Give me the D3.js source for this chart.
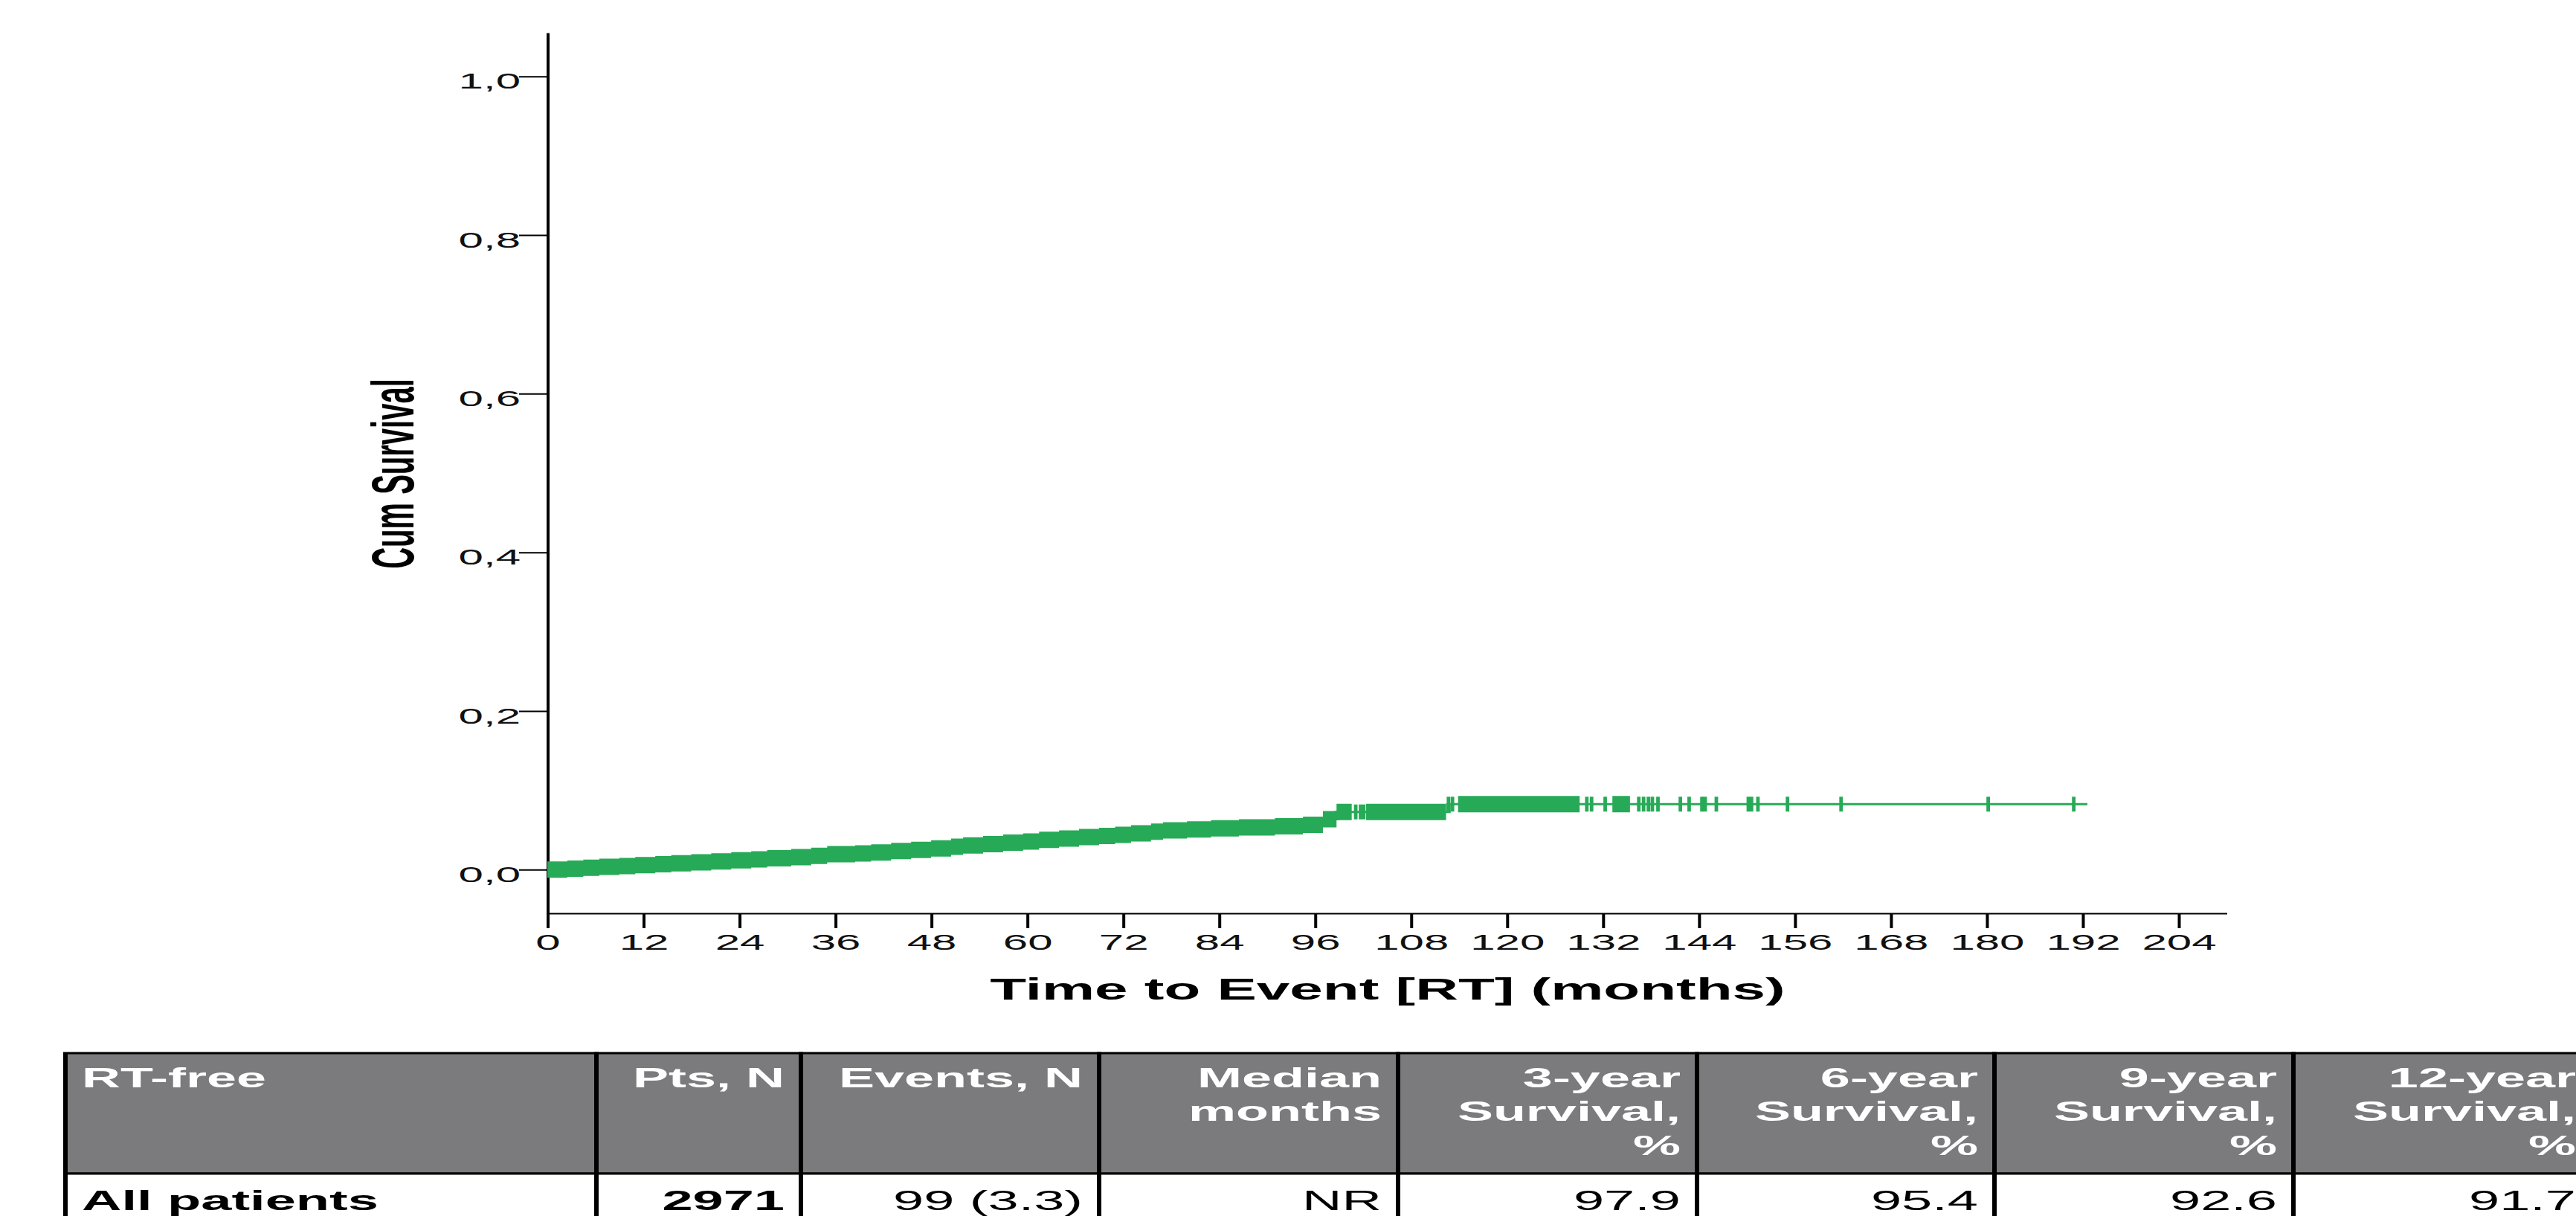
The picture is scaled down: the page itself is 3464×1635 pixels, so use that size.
<!DOCTYPE html>
<html>
<head>
<meta charset="utf-8">
<script src="https://cdn.jsdelivr.net/npm/d3@7"></script>
<style>
  html, body { margin: 0; padding: 0; background: #fff; overflow: hidden; }
  svg { display: block; }
  text { font-family: "Liberation Sans", Arial, sans-serif; }
</style>
</head>
<body>
<svg id="chart" width="3464" height="1635" viewBox="0 0 1732 1635" preserveAspectRatio="none"></svg>
<script>
// ---------------- data ----------------
const xTickValues = [0, 12, 24, 36, 48, 60, 72, 84, 96, 108, 120, 132, 144, 156, 168, 180, 192, 204];
const yTickValues = [0, 0.2, 0.4, 0.6, 0.8, 1.0];
const yTickLabels = ["0,0", "0,2", "0,4", "0,6", "0,8", "1,0"];

// Kaplan–Meier curve (cumulative event proportion), step times in months
const stepTimes  = [0, 2.5, 4.5, 6.5, 9, 11, 13.5, 15.5, 18, 20.5, 23, 25.5, 27.5, 30.5, 33, 35, 38.5, 40.5, 43, 45.5,
                    48, 50.5, 52, 54.5, 57, 59.5, 61.5, 64, 66.5, 69, 71, 73, 75.5, 77, 80, 83, 86.5, 91, 94.5, 97, 98.7, 112.7];
const stepValues = [0, .0012, .0025, .0035, .0045, .0058, .0068, .008, .0092, .0105, .0118, .013, .0143, .0158, .0175, .0195, .0205, .0217, .0234, .025,
                    .0268, .029, .0305, .0322, .034, .0355, .0375, .0392, .041, .0425, .044, .0458, .0478, .0495, .0508, .052, .0532, .0547, .0565, .0635, .0728, .0826];
const lastFollowUp = 192.6;

// censoring: dense runs (marks merge into a band) and isolated censor marks
const denseCensorStart = [0, 102.4, 113.9, 133.2];
const denseCensorEnd   = [100.6, 112.4, 129.1, 135.4];
const censorTimes = [101.1, 101.7, 102.1, 112.7, 113.2, 130.0, 130.6, 132.3, 136.5, 137.1, 137.7, 138.2, 138.9,
                     141.7, 142.8, 144.4, 144.8, 146.2, 150.2, 150.6, 151.4, 155.1, 161.8, 180.2, 190.9];

const xTitle = "Time to Event [RT] (months)";
const yTitle = "Cum Survival";

// table
const tableHeaders = [
  ["RT-free"], ["Pts, N"], ["Events, N"], ["Median", "months"],
  ["3-year", "Survival,", "%"], ["6-year", "Survival,", "%"], ["9-year", "Survival,", "%"], ["12-year", "Survival,", "%"]
];
const tableRow = ["All patients", "2971", "99 (3.3)", "NR", "97.9", "95.4", "92.6", "91.7"];
const tableRowBold = [true, true, false, false, false, false, false, false];

// ---------------- drawing ----------------
const svg = d3.select("#chart");
const green = "#27aa57";

const x = d3.scaleLinear().domain([0, 210]).range([368, 1497]);
const y = d3.scaleLinear().domain([-0.055, 1.055]).range([1228, 44]);

function valueAt(t) {
  let v = stepValues[0];
  for (let i = 0; i < stepTimes.length; i++) if (stepTimes[i] <= t) v = stepValues[i];
  return v;
}
function segment(a, b) {
  const pts = [[a, valueAt(a)]];
  stepTimes.forEach((t, i) => { if (t > a && t < b) pts.push([t, stepValues[i]]); });
  pts.push([b, valueAt(b)]);
  return pts;
}

// axes
const yAxis = d3.axisLeft(y).tickValues(yTickValues).tickFormat((d, i) => yTickLabels[i])
  .tickSize(19).tickSizeOuter(0).tickPadding(0);
const gy = svg.append("g").attr("transform", `translate(${x(0)},0)`).call(yAxis);
gy.select(".domain").attr("stroke", "#000").attr("stroke-width", 2);
gy.selectAll(".tick line").attr("stroke", "#000").attr("stroke-width", 2);
gy.selectAll(".tick text").attr("fill", "#111").attr("font-size", 30)
  .attr("font-family", "Liberation Sans, Arial, sans-serif").attr("x", -18).attr("dy", 16);

const xAxis = d3.axisBottom(x).tickValues(xTickValues).tickSize(20).tickSizeOuter(0).tickPadding(0);
const gx = svg.append("g").attr("transform", `translate(0,${y(-0.055)})`).call(xAxis);
gx.select(".domain").attr("stroke", "#000").attr("stroke-width", 2);
gx.selectAll(".tick line").attr("stroke", "#000").attr("stroke-width", 2);
gx.selectAll(".tick text").attr("fill", "#111").attr("font-size", 30)
  .attr("font-family", "Liberation Sans, Arial, sans-serif").attr("y", 49).attr("dy", 0);

// axis titles
svg.append("text").attr("x", 933).attr("y", 1344).attr("text-anchor", "middle")
  .attr("font-size", 40).attr("font-weight", "bold").attr("fill", "#000").text(xTitle);
svg.append("text").attr("transform", "translate(278,637) rotate(-90)").attr("text-anchor", "middle")
  .attr("font-size", 40).attr("font-weight", "bold").attr("fill", "#000").text(yTitle);

// curve
const plot = svg.append("g");
const band = d3.area().curve(d3.curveStepAfter)
  .x(d => x(d[0])).y0(d => y(d[1]) + 11).y1(d => y(d[1]) - 11);
denseCensorStart.forEach((a, i) => {
  plot.append("path").datum(segment(a, denseCensorEnd[i])).attr("d", band).attr("fill", green);
});
const line = d3.line().curve(d3.curveStepAfter).x(d => x(d[0])).y(d => y(d[1]));
plot.append("path").datum(segment(0, lastFollowUp)).attr("d", line)
  .attr("fill", "none").attr("stroke", green).attr("stroke-width", 3);
plot.selectAll("line.cens").data(censorTimes).join("line").attr("class", "cens")
  .attr("x1", d => x(d)).attr("x2", d => x(d))
  .attr("y1", d => y(valueAt(d)) - 10).attr("y2", d => y(valueAt(d)) + 10)
  .attr("stroke", green).attr("stroke-width", 2.4);

// table
const colEdges = [44, 401, 538.5, 739, 940, 1141, 1341, 1542, 1743];
const tTop = 708, tHeadBottom = 789, tRowBottom = 830;
const tbl = svg.append("g");
tbl.selectAll("rect.h").data(tableHeaders).join("rect").attr("class", "h")
  .attr("x", (d, i) => colEdges[i]).attr("width", (d, i) => colEdges[i + 1] - colEdges[i])
  .attr("y", tTop * 2).attr("height", (tHeadBottom - tTop) * 2)
  .attr("fill", "#7b7b7d").attr("stroke", "#000").attr("stroke-width", 3);
tbl.selectAll("rect.r").data(tableRow).join("rect").attr("class", "r")
  .attr("x", (d, i) => colEdges[i]).attr("width", (d, i) => colEdges[i + 1] - colEdges[i])
  .attr("y", tHeadBottom * 2).attr("height", (tRowBottom - tHeadBottom) * 2)
  .attr("fill", "#fff").attr("stroke", "#000").attr("stroke-width", 3);

tableHeaders.forEach((lines, i) => {
  const left = i === 0;
  const t = tbl.append("text")
    .attr("x", left ? colEdges[i] + 11 : colEdges[i + 1] - 11)
    .attr("text-anchor", left ? "start" : "end")
    .attr("font-size", 36).attr("font-weight", "bold").attr("fill", "#fff");
  lines.forEach((s, k) => t.append("tspan")
    .attr("x", left ? colEdges[i] + 11 : colEdges[i + 1] - 11)
    .attr("y", 1462 + k * 45.5).text(s));
});
tableRow.forEach((s, i) => {
  const left = i === 0;
  tbl.append("text")
    .attr("x", left ? colEdges[i] + 11 : colEdges[i + 1] - 11)
    .attr("y", 1627).attr("text-anchor", left ? "start" : "end")
    .attr("font-size", 37).attr("font-weight", tableRowBold[i] ? "bold" : "normal")
    .attr("fill", "#000").text(s);
});
</script>
</body>
</html>
